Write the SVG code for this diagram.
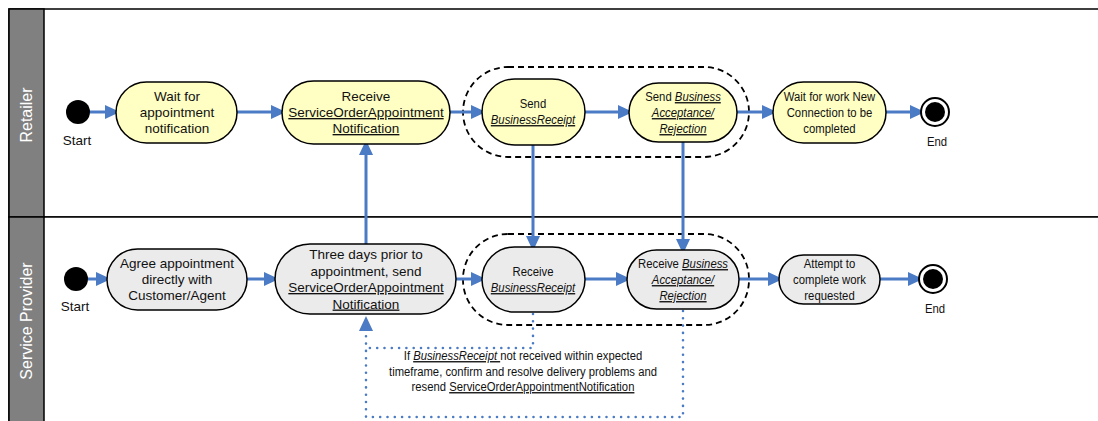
<svg xmlns="http://www.w3.org/2000/svg" width="1098" height="421" viewBox="0 0 1098 421">
<style>
.lane{fill:#fff;stroke:#000;stroke-width:1.5}
.hdr{fill:#808080;stroke:#000;stroke-width:1.5}
.hl{font-family:"Liberation Sans",Arial,sans-serif;font-size:16px;fill:#fff;text-anchor:middle}
.ny{fill:#FFFFC4;stroke:#000;stroke-width:1.5}
.ng{fill:#EBEBEB;stroke:#000;stroke-width:1.5}
.t{font-family:"Liberation Sans",Arial,sans-serif;font-size:13.5px;fill:#111;text-anchor:middle}
.u{text-decoration:underline}
.i{font-style:italic;text-decoration:underline}
.grp{fill:none;stroke:#000;stroke-width:1.8;stroke-dasharray:6 4}
.c{fill:none;stroke:#4A7BC4;stroke-width:3}
.d{fill:none;stroke:#4A7BC4;stroke-width:2.6;stroke-dasharray:0 7.3;stroke-linecap:round}
</style>
<defs>
<marker id="a" viewBox="0 0 15 14" refX="11" refY="7" markerWidth="15" markerHeight="14" markerUnits="userSpaceOnUse" orient="auto"><path d="M0,0 L15,7 L0,14 z" fill="#4A7BC4"/></marker>
<marker id="b" viewBox="0 0 15 14" refX="0" refY="7" markerWidth="15" markerHeight="14" markerUnits="userSpaceOnUse" orient="auto"><path d="M0,0 L15,7 L0,14 z" fill="#4A7BC4"/></marker>
</defs>
<rect width="1098" height="421" fill="#fff"/>
<g id="lanes">
<rect class="lane" x="9" y="9" width="1100" height="208"/>
<rect class="lane" x="9" y="217" width="1100" height="210"/>
<rect class="hdr" x="9" y="9" width="35" height="208"/>
<rect class="hdr" x="9" y="217" width="35" height="210"/>
<text class="hl" transform="translate(32,115) rotate(-90)">Retailer</text>
<text class="hl" transform="translate(32,321) rotate(-90)">Service Provider</text>
</g>
<g id="groups">
<rect class="grp" x="463" y="67" width="286" height="90" rx="45"/>
<rect class="grp" x="463" y="234" width="286" height="91" rx="45"/>
</g>
<g id="connectors">
<path class="c" d="M90,112 H116" marker-end="url(#a)"/>
<path class="c" d="M237,112 H282" marker-end="url(#a)"/>
<path class="c" d="M450,112 H482" marker-end="url(#a)"/>
<path class="c" d="M585,112 H629" marker-end="url(#a)"/>
<path class="c" d="M737,112 H773" marker-end="url(#a)"/>
<path class="c" d="M886,112 H921" marker-end="url(#a)"/>
<path class="c" d="M88,279 H107" marker-end="url(#a)"/>
<path class="c" d="M247,279 H275" marker-end="url(#a)"/>
<path class="c" d="M456,279 H482" marker-end="url(#a)"/>
<path class="c" d="M585,279 H627" marker-end="url(#a)"/>
<path class="c" d="M739,279 H779" marker-end="url(#a)"/>
<path class="c" d="M880,279 H919" marker-end="url(#a)"/>
<path class="c" d="M366,244 V144" marker-end="url(#a)"/>
<path class="c" d="M533,145 V247" marker-end="url(#a)"/>
<path class="c" d="M683,142 V250" marker-end="url(#a)"/>
<path class="d" d="M533,314 V348 H366"/>
<path class="d" d="M683,311 V417 H366 V333"/>
<path d="M366,333 V331" fill="none" stroke="none" marker-end="url(#b)"/>
</g>
<g id="r-start"><circle cx="78" cy="112" r="12" fill="#000"/><text class="t" x="77" y="145">Start</text></g>
<g id="r-wait"><rect class="ny" x="116" y="82" width="121" height="61" rx="30.5"/>
<text class="t" x="177" y="101">Wait for</text><text class="t" x="177" y="117">appointment</text><text class="t" x="177" y="133">notification</text></g>
<g id="r-receive"><rect class="ny" x="282" y="81" width="168" height="63" rx="31.5"/>
<text class="t" x="366" y="101">Receive</text><text class="t u" x="366" y="117">ServiceOrderAppointment</text><text class="t u" x="366" y="133">Notification</text></g>
<g id="r-sendbr"><rect class="ny" x="482" y="79" width="103" height="66" rx="33"/>
<g transform="translate(533,0) scale(0.84,1)"><text class="t" x="0" y="108">Send</text><text class="t i" x="0" y="124">BusinessReceipt</text></g></g>
<g id="r-sendbar"><rect class="ny" x="629" y="83" width="108" height="59" rx="29.5"/>
<g transform="translate(683,0) scale(0.84,1)"><text class="t" x="0" y="101">Send <tspan class="i">Business</tspan></text><text class="t i" x="0" y="117">Acceptance/</text><text class="t i" x="0" y="133">Rejection</text></g></g>
<g id="r-waitwork"><rect class="ny" x="773" y="82" width="113" height="61" rx="30.5"/>
<g transform="translate(829.5,0) scale(0.84,1)"><text class="t" x="0" y="101">Wait for work New</text><text class="t" x="0" y="117">Connection to be</text><text class="t" x="0" y="133">completed</text></g></g>
<g id="r-end"><circle cx="935" cy="112" r="14" fill="#fff" stroke="#000" stroke-width="2"/><circle cx="935" cy="112" r="10" fill="#000"/>
<g transform="translate(937,0) scale(0.84,1)"><text class="t" x="0" y="146">End</text></g></g>
<g id="s-start"><circle cx="76" cy="279" r="12" fill="#000"/><text class="t" x="75" y="311">Start</text></g>
<g id="s-agree"><rect class="ng" x="107" y="249" width="140" height="61" rx="30.5"/>
<text class="t" x="177" y="268">Agree appointment</text><text class="t" x="177" y="284">directly with</text><text class="t" x="177" y="300">Customer/Agent</text></g>
<g id="s-three"><rect class="ng" x="275" y="244" width="181" height="70" rx="35"/>
<text class="t" x="366" y="259">Three days prior to</text><text class="t" x="366" y="275.5">appointment, send</text><text class="t u" x="366" y="292">ServiceOrderAppointment</text><text class="t u" x="366" y="308.5">Notification</text></g>
<g id="s-recbr"><rect class="ng" x="482" y="247" width="103" height="65" rx="32.5"/>
<g transform="translate(533,0) scale(0.84,1)"><text class="t" x="0" y="276">Receive</text><text class="t i" x="0" y="292">BusinessReceipt</text></g></g>
<g id="s-recbar"><rect class="ng" x="627" y="250" width="112" height="59" rx="29.5"/>
<g transform="translate(683,0) scale(0.84,1)"><text class="t" x="0" y="268">Receive <tspan class="i">Business</tspan></text><text class="t i" x="0" y="284">Acceptance/</text><text class="t i" x="0" y="300">Rejection</text></g></g>
<g id="s-attempt"><rect class="ng" x="779" y="255" width="101" height="49" rx="24.5"/>
<g transform="translate(829.5,0) scale(0.84,1)"><text class="t" x="0" y="268">Attempt to</text><text class="t" x="0" y="284">complete work</text><text class="t" x="0" y="300">requested</text></g></g>
<g id="s-end"><circle cx="933" cy="279" r="14" fill="#fff" stroke="#000" stroke-width="2"/><circle cx="933" cy="279" r="10" fill="#000"/>
<g transform="translate(935,0) scale(0.84,1)"><text class="t" x="0" y="313">End</text></g></g>
<g id="note"><g transform="translate(523,0) scale(0.835,1)">
<text class="t" x="0" y="360">If <tspan class="i">BusinessReceipt </tspan>not received within expected</text>
<text class="t" x="0" y="376">timeframe, confirm and resolve delivery problems and</text>
<text class="t" x="0" y="391">resend <tspan class="u">ServiceOrderAppointmentNotification</tspan></text>
</g></g>
</svg>
